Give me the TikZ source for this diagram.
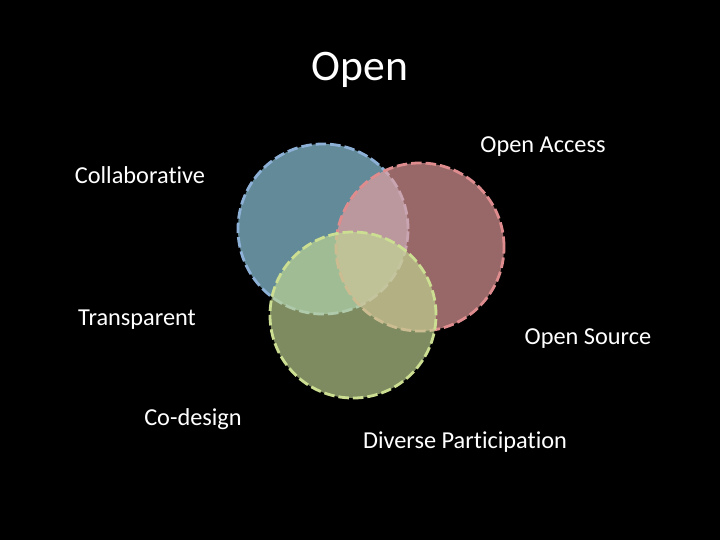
\documentclass[tikz,border=0pt]{standalone}
\usepackage{fontspec}
\setmainfont[Ligatures=NoCommon]{Carlito}
\definecolor{vnblue}{RGB}{151,212,234}
\definecolor{vnred}{RGB}{234,160,160}
\definecolor{vngreen}{RGB}{194,215,148}
\definecolor{vnblueline}{RGB}{140,176,214}
\definecolor{vnredline}{RGB}{222,140,142}
\definecolor{vngreenline}{RGB}{204,222,146}
\usetikzlibrary{positioning}

\begin{document}
\begin{tikzpicture}[x=0.025cm, y=-0.025cm,
    set/.style={circle, fill opacity=0.65, line width=2pt,
                dash pattern=on 7.5pt off 2.8pt, inner sep=0pt},
    lbl/.style={text=white, font=\fontsize{17.3}{20}\selectfont, inner sep=0pt}
  ]
    % Background
    \fill[black] (0,0) rectangle (720,540);

    % Title
    \node[text=white, font=\fontsize{31}{36}\selectfont] (title) at (360,70) {Open};

    % Circles
    \node[set, fill=vnblue, draw=vnblueline, minimum size=4.25cm] (collab) at (323,229) {};
    \node[set, fill=vnred, draw=vnredline, minimum size=4.2cm] (access) at (420,247) {};
    \node[set, fill=vngreen, draw=vngreenline, minimum size=4.15cm] (diverse) at (353,315) {};

    % Labels
    \node[lbl] (collabtxt) at (140,175) {Collaborative};
    \node[lbl] (transp) at (137,320) {Transparent};
    \node[lbl] (codesign) at (193,419) {Co-design};
    \node[lbl] (accesstxt) at (543,147) {Open Access};
    \node[lbl] (source) at (588,339) {Open Source};
    \node[lbl] (diversetxt) at (465,442) {Diverse Participation};
\end{tikzpicture}
\end{document}
